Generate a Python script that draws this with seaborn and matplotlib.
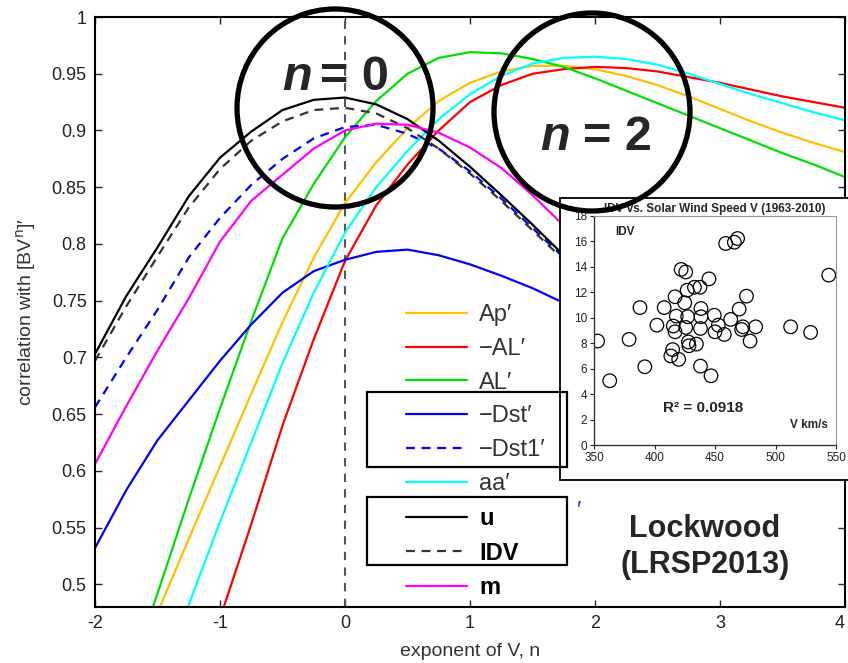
import matplotlib
matplotlib.use("Agg")
import matplotlib.pyplot as plt
import matplotlib.transforms as mtrans
import pandas as pd
import seaborn as sns
from matplotlib.patches import Ellipse, Rectangle
from matplotlib.ticker import FormatStrFormatter

# ── data ─────────────────────────────────────────────────────────────────────
n_exp = [-2.0, -1.75, -1.5, -1.25, -1.0, -0.75, -0.5, -0.25, 0.0, 0.25, 0.5,
         0.75, 1.0, 1.25, 1.5, 1.75, 2.0, 2.25, 2.5, 2.75, 3.0, 3.25, 3.5,
         3.75, 4.0]

ap       = [0.350, 0.410, 0.475, 0.540, 0.604, 0.668, 0.731, 0.788, 0.836,
            0.872, 0.902, 0.926, 0.942, 0.952, 0.957, 0.957, 0.954, 0.948,
            0.940, 0.930, 0.919, 0.908, 0.898, 0.889, 0.881]
neg_al   = [0.150, 0.230, 0.310, 0.390, 0.470, 0.553, 0.640, 0.716, 0.785,
            0.834, 0.870, 0.900, 0.925, 0.940, 0.950, 0.954, 0.956, 0.955,
            0.952, 0.947, 0.942, 0.936, 0.930, 0.925, 0.920]
al       = [0.330, 0.410, 0.492, 0.575, 0.655, 0.732, 0.805, 0.853, 0.894,
            0.926, 0.950, 0.964, 0.969, 0.968, 0.963, 0.956, 0.946, 0.935,
            0.924, 0.913, 0.902, 0.891, 0.880, 0.870, 0.859]
neg_dst  = [0.532, 0.583, 0.627, 0.662, 0.697, 0.729, 0.757, 0.776, 0.786,
            0.793, 0.795, 0.790, 0.782, 0.772, 0.761, 0.748, 0.734, 0.719,
            0.704, 0.689, 0.674, 0.660, 0.647, 0.635, 0.625]
neg_dst1 = [0.656, 0.700, 0.742, 0.788, 0.823, 0.852, 0.875, 0.893, 0.903,
            0.905, 0.897, 0.884, 0.864, 0.840, 0.814, 0.788, 0.760, 0.733,
            0.708, 0.686, 0.667, 0.652, 0.640, 0.630, 0.622]
aa       = [0.270, 0.340, 0.410, 0.482, 0.555, 0.625, 0.695, 0.757, 0.810,
            0.850, 0.882, 0.910, 0.932, 0.948, 0.959, 0.964, 0.965, 0.963,
            0.958, 0.950, 0.941, 0.932, 0.924, 0.916, 0.909]
u        = [0.703, 0.754, 0.797, 0.842, 0.876, 0.899, 0.918, 0.927, 0.929,
            0.923, 0.910, 0.891, 0.868, 0.843, 0.817, 0.790, 0.762, 0.735,
            0.710, 0.688, 0.670, 0.655, 0.642, 0.632, 0.624]
idv      = [0.697, 0.745, 0.789, 0.832, 0.866, 0.891, 0.908, 0.918, 0.920,
            0.915, 0.902, 0.884, 0.862, 0.838, 0.812, 0.786, 0.758, 0.731,
            0.706, 0.684, 0.665, 0.650, 0.638, 0.628, 0.620]
m        = [0.606, 0.657, 0.706, 0.752, 0.802, 0.838, 0.861, 0.884, 0.900,
            0.906, 0.905, 0.898, 0.885, 0.867, 0.843, 0.816, 0.788, 0.760,
            0.733, 0.708, 0.686, 0.668, 0.653, 0.642, 0.634]

labels = ["Ap′", "−AL′", "AL′", "−Dst′", "−Dst1′", "aa′", "u", "IDV", "m"]
colours = ["#ffc000", "#ff0000", "#00e000", "#0000ff", "#0000ff", "#00ffff",
           "#000000", "#333333", "#ff00ff"]
dashed = [False, False, False, False, True, False, False, True, False]

y_ticks = [0.5, 0.55, 0.6, 0.65, 0.7, 0.75, 0.8, 0.85, 0.9, 0.95, 1.0]
x_ticks = [-2, -1, 0, 1, 2, 3, 4]

# inset: IDV vs solar wind speed, one point per year 1963-2010
speed = [353, 363, 379, 388, 392, 402, 408, 413.5, 415, 415.5, 417, 417, 418,
         420, 422, 425.8, 425.8, 425, 427, 427.4, 428, 428.5, 433, 434.6,
         437.6, 438, 438.4, 438.4, 438, 445, 446.7, 449.4, 450, 452.7, 457.7,
         458.8, 463, 466, 468.7, 470, 472, 473, 476, 479, 483.6, 512.5, 529,
         544]
idv_yr = [8.17, 5.05, 8.3, 10.8, 6.15, 9.42, 10.8, 7.0, 7.5, 9.35, 11.65,
          8.9, 10.13, 6.73, 13.8, 13.6, 9.24, 11.18, 12.17, 10.08, 8.1, 7.8,
          12.4, 7.93, 12.4, 6.2, 10.73, 10.08, 9.16, 13.06, 5.44, 10.2, 8.9,
          9.42, 8.69, 15.84, 9.87, 15.94, 16.23, 10.68, 9.08, 9.29, 11.7,
          8.17, 9.29, 9.29, 8.85, 13.35]

# ── styling ──────────────────────────────────────────────────────────────────
sns.set_style("ticks")
plt.rcParams["font.family"] = ["Liberation Sans", "DejaVu Sans"]
plt.rcParams["axes.unicode_minus"] = False

W, H = 848, 663
fig = plt.figure(figsize=(W / 100, H / 100), dpi=100)


def fx(px):
    return px / W


def fy(py):
    return 1 - py / H


ax = fig.add_axes([fx(95), fy(607), fx(750), 590 / H])

series = [ap, neg_al, al, neg_dst, neg_dst1, aa, u, idv, m]
for vals, lab, col, dsh in zip(series, labels, colours, dashed):
    df = pd.DataFrame({"n": n_exp, "r": vals})
    sns.lineplot(data=df, x="n", y="r", ax=ax, color=col, lw=1.6,
                 linestyle=(0, (4, 3)) if dsh else "-", label=lab)

ax.axvline(0, color="#555555", lw=1.5, linestyle=(0, (4, 3.5)), zorder=1)

ax.set_xlim(-2, 4)
ax.set_ylim(0.48, 1.0)
ax.set_xticks(x_ticks)
ax.set_yticks(y_ticks)
ax.yaxis.set_major_formatter(FormatStrFormatter("%g"))
ax.tick_params(direction="in", top=True, right=True, length=5, width=1,
               labelsize=13, labelcolor="#222222", pad=6)
for sp in ax.spines.values():
    sp.set_linewidth(1.5)
    sp.set_color("black")
    sp.set_visible(True)
ax.set_xlabel("exponent of V, n", fontsize=14, color="#333333", labelpad=8)
ax.set_ylabel("correlation with [BV$^{\\rm n}$]′", fontsize=14,
              color="#333333", labelpad=10)

# last x label sits against the right edge of the picture
last = ax.get_xticklabels()[-1]
last.set_transform(last.get_transform()
                   + mtrans.ScaledTranslation(-4 / 72, 0, fig.dpi_scale_trans))

handles, labs = ax.get_legend_handles_labels()
leg = ax.legend(handles, labs, loc="upper left",
                bbox_to_anchor=(fx(406), fy(304)),
                bbox_transform=fig.transFigure, frameon=False, fontsize=17,
                handlelength=2.6, handletextpad=0.5, labelspacing=0.5,
                borderpad=0, borderaxespad=0)
for i, t in enumerate(leg.get_texts()):
    if i >= 6:
        t.set_fontweight("bold")
        t.set_color("black")
    else:
        t.set_color("#333333")

# boxes drawn round legend entries
for top, bot in [(392, 467), (497, 565)]:
    fig.add_artist(Rectangle((fx(367), fy(bot)), fx(200), (bot - top) / H,
                             transform=fig.transFigure, fill=False,
                             ec="black", lw=1.6, zorder=3))
fig.text(fx(576), fy(512), "′", fontsize=17, color="#3344aa", zorder=1,
         va="center")

# ── inset ────────────────────────────────────────────────────────────────────
fig.add_artist(Rectangle((fx(560), fy(480)), fx(290), 282 / H,
                         transform=fig.transFigure, fc="white", ec="black",
                         lw=1.3, zorder=1.5))
ax_in = fig.add_axes([fx(594), fy(445), fx(242), 229 / H])
ax_in.set_zorder(2)
sns.scatterplot(x=speed, y=idv_yr, ax=ax_in, s=95, marker="o",
                facecolors="none", edgecolors="black", linewidth=0.9)
ax_in.set_xlim(350, 550)
ax_in.set_ylim(0, 18)
ax_in.set_xticks([350, 400, 450, 500, 550])
ax_in.set_yticks(list(range(0, 19, 2)))
ax_in.tick_params(direction="out", length=3, width=0.8, labelsize=8.5,
                  pad=2, colors="#222222")
for side in ["left", "bottom"]:
    ax_in.spines[side].set_color("#333333")
    ax_in.spines[side].set_linewidth(1.0)
for side in ["top", "right"]:
    ax_in.spines[side].set_visible(True)
    ax_in.spines[side].set_color("#999999")
    ax_in.spines[side].set_linewidth(0.8)
ax_in.set_title("IDV vs. Solar Wind Speed V (1963-2010)", fontsize=8.5,
                fontweight="bold", pad=3)
ax_in.text(0.087, 0.93, "IDV", transform=ax_in.transAxes, fontsize=8.5,
           fontweight="bold", va="center")
ax_in.text(0.45, 0.16, "R² = 0.0918", transform=ax_in.transAxes,
           fontsize=11, fontweight="bold", ha="center", va="center")
ax_in.text(0.967, 0.087, "V km/s", transform=ax_in.transAxes, fontsize=8.5,
           fontweight="bold", ha="right", va="center")

fig.text(fx(705), fy(547), "Lockwood\n(LRSP2013)", fontsize=22,
         fontweight="bold", ha="center", va="center", linespacing=1.25,
         zorder=3)

# ── highlighted exponents ────────────────────────────────────────────────────
for cx, cy, x_n, x_eq, base, val in [(335, 108, 282, 320, 90, "= 0"),
                                     (592, 112, 540, 583, 150, "= 2")]:
    fig.add_artist(Ellipse((fx(cx), fy(cy)), fx(196), 198 / H,
                           transform=fig.transFigure, fill=False,
                           ec="black", lw=3.8, zorder=3))
    fig.text(fx(x_n), fy(base), "n", fontsize=35, fontweight="bold",
             style="italic", va="baseline", ha="left", zorder=4)
    fig.text(fx(x_eq), fy(base), val, fontsize=35, fontweight="bold",
             va="baseline", ha="left", zorder=4)

fig.savefig("out.png", dpi=100)
